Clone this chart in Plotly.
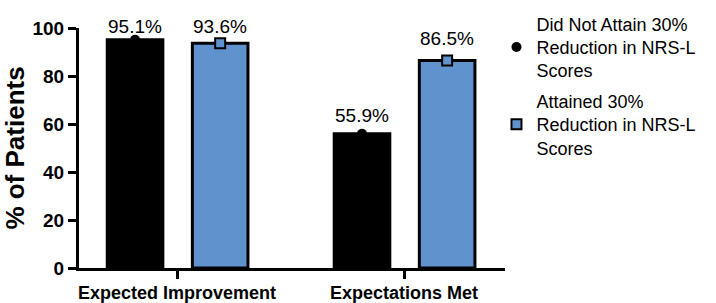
import plotly.graph_objects as go

categories = ["Expected Improvement", "Expectations Met"]
did_not_attain = [95.1, 55.9]
attained = [93.6, 86.5]
series_names = ["Did Not Attain 30%<br>Reduction in NRS-L<br>Scores",
                "Attained 30%<br>Reduction in NRS-L<br>Scores"]
y_ticks = [0, 20, 40, 60, 80, 100]

FONT = "Arial, Liberation Sans, sans-serif"
BLUE = "#6093CE"
xpos = [0, 1]
bw = 0.245
off_black = -0.185
off_blue = 0.19
shift_black = [1, 6]
shift_blue = [4, 9]

fig = go.Figure()
fig.add_trace(go.Bar(x=xpos, y=did_not_attain, width=bw, offset=off_black - bw / 2,
                     marker=dict(color="black", line=dict(color="black", width=3)),
                     showlegend=False, hoverinfo="skip"))
fig.add_trace(go.Bar(x=xpos, y=attained, width=bw, offset=off_blue - bw / 2,
                     marker=dict(color=BLUE, line=dict(color="black", width=3)),
                     showlegend=False, hoverinfo="skip"))
fig.add_trace(go.Scatter(x=[p + off_black for p in xpos], y=did_not_attain, mode="markers",
                         marker=dict(symbol="circle", size=10, color="black"),
                         name=series_names[0], legendgroup="g1", cliponaxis=False))
fig.add_trace(go.Scatter(x=[p + off_blue for p in xpos], y=attained, mode="markers",
                         marker=dict(symbol="square", size=10, color=BLUE,
                                     line=dict(color="black", width=2)),
                         name=series_names[1], legendgroup="g2", cliponaxis=False))

for p, v, s in zip(xpos, did_not_attain, shift_black):
    fig.add_annotation(x=p + off_black, y=v, text=f"{v}%", showarrow=False,
                       yanchor="bottom", yshift=s, font=dict(family=FONT, size=19, color="black"))
for p, v, s in zip(xpos, attained, shift_blue):
    fig.add_annotation(x=p + off_blue, y=v, text=f"{v}%", showarrow=False,
                       yanchor="bottom", yshift=s, font=dict(family=FONT, size=19, color="black"))

# significance bracket
fig.add_shape(type="line", x0=0.74, x1=1.207, y0=102.9, y1=102.9, xref="x", yref="y",
              line=dict(color="black", width=3))
fig.add_annotation(x=0.95, y=102.9, text="*", showarrow=False, yanchor="bottom", yshift=-4,
                   font=dict(family=FONT, size=24, color="black"))

fig.update_layout(
    width=716, height=303,
    margin=dict(l=79, r=211, t=28, b=35, autoexpand=False),
    plot_bgcolor="white", paper_bgcolor="white",
    barmode="overlay",
    font=dict(family=FONT, color="black"),
    legend=dict(x=0.98, y=1.094, xanchor="left", yanchor="top",
                font=dict(family=FONT, size=18, color="black"), maxheight=300,
                tracegroupgap=4, itemwidth=30, bgcolor="rgba(0,0,0,0)"),
    xaxis=dict(range=[-0.432, 1.445], tickvals=xpos, ticktext=categories,
               showline=True, linecolor="black", linewidth=3, ticks="outside",
               ticklen=8, tickwidth=3, tickcolor="black", showgrid=False, zeroline=False,
               automargin=False, ticklabelstandoff=-2,
               tickfont=dict(family=FONT, size=18, color="black", weight="bold")),
    yaxis=dict(range=[0, 100], tickvals=y_ticks, showline=True, linecolor="black",
               linewidth=3, ticks="outside", ticklen=8, tickwidth=3, tickcolor="black",
               showgrid=False, zeroline=False, automargin=False,
               tickfont=dict(family=FONT, size=19, color="black", weight="bold"),
               title=dict(text="% of Patients", standoff=6,
                          font=dict(family=FONT, size=26, color="black", weight="bold"))),
)
fig.write_html("out.html")
